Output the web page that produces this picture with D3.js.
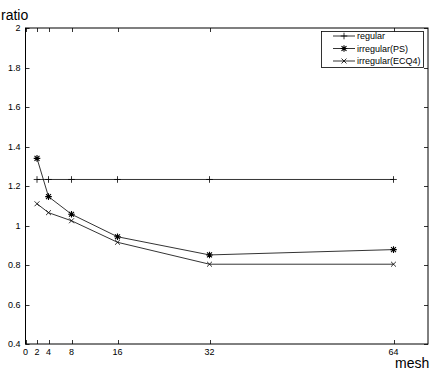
<!DOCTYPE html>
<html><head><meta charset="utf-8">
<script src="https://cdn.jsdelivr.net/npm/d3@7"></script>
<style>body{margin:0;background:#fff}svg{display:block}text{font-family:"Liberation Sans",Arial,sans-serif}</style>
</head><body><svg id="c" width="436" height="371"></svg>
<script>
const meshes = [2, 4, 8, 16, 32, 64];
const regular = [1.233, 1.233, 1.233, 1.233, 1.233, 1.233];
const irregularPS = [1.34, 1.146, 1.057, 0.943, 0.851, 0.878];
const irregularECQ4 = [1.11, 1.065, 1.024, 0.915, 0.804, 0.804];
const xTicks = [0, 2, 4, 8, 16, 32, 64];
const yTicks = [0.4, 0.6, 0.8, 1, 1.2, 1.4, 1.6, 1.8, 2];
const seriesNames = ["regular", "irregular(PS)", "irregular(ECQ4)"];

const svg = d3.select("#c");
const L = 25.5, R = 428, T = 28, B = 344;
const x = d3.scaleLinear().domain([0, 70]).range([L, R]);
const y = d3.scaleLinear().domain([0.4, 2]).range([B, T]);
const tk = 4;

// box
svg.append("rect").attr("x", L).attr("y", T).attr("width", R - L).attr("height", B - T)
  .attr("fill", "none").attr("stroke", "#000").attr("stroke-width", 1);

// ticks
const g = svg.append("g").attr("stroke", "#000").attr("stroke-width", 0.8);
xTicks.forEach(t => {
  const px = Math.round(x(t)) + 0.5;
  g.append("line").attr("x1", px).attr("x2", px).attr("y1", B).attr("y2", B - tk);
  g.append("line").attr("x1", px).attr("x2", px).attr("y1", T).attr("y2", T + tk);
});
yTicks.forEach(t => {
  const py = Math.round(y(t)) + 0.5;
  g.append("line").attr("x1", L).attr("x2", L + tk).attr("y1", py).attr("y2", py);
  g.append("line").attr("x1", R).attr("x2", R - tk).attr("y1", py).attr("y2", py);
});

// tick labels
svg.append("g").selectAll("text").data(xTicks).join("text")
  .attr("x", d => x(d)).attr("y", B + 11).attr("text-anchor", "middle")
  .attr("font-size", 9).text(d => d);
svg.append("g").selectAll("text").data(yTicks).join("text")
  .attr("x", L - 5).attr("y", d => y(d) + 3).attr("text-anchor", "end")
  .attr("font-size", 9).text(d => d);

// axis labels
svg.append("text").attr("x", 1).attr("y", 20).attr("font-size", 14).text("ratio");
svg.append("text").attr("x", 395).attr("y", 368).attr("font-size", 14).text("mesh");

// markers
function marker(sel, type, cx, cy, s) {
  const p = d3.path();
  if (type === "+" || type === "*") {
    p.moveTo(cx - s, cy); p.lineTo(cx + s, cy);
    p.moveTo(cx, cy - s); p.lineTo(cx, cy + s);
  }
  if (type === "x" || type === "*") {
    const d = s * 0.75;
    p.moveTo(cx - d, cy - d); p.lineTo(cx + d, cy + d);
    p.moveTo(cx - d, cy + d); p.lineTo(cx + d, cy - d);
  }
  sel.append("path").attr("d", p.toString()).attr("stroke", "#000")
    .attr("stroke-width", type === "*" ? 1.1 : 0.8).attr("fill", "none");
}

const series = [
  {vals: regular, m: "+"},
  {vals: irregularPS, m: "*"},
  {vals: irregularECQ4, m: "x"}
];
const line = d3.line().x(d => x(d[0])).y(d => y(d[1]));
series.forEach(s => {
  const pts = meshes.map((m, i) => [m, s.vals[i]]);
  svg.append("path").attr("d", line(pts)).attr("fill", "none")
    .attr("stroke", "#000").attr("stroke-width", 0.8);
  pts.forEach(p => marker(svg, s.m, x(p[0]), y(p[1]), 3.3));
});

// legend
const lg = svg.append("g");
lg.append("rect").attr("x", 321.5).attr("y", 31.5).attr("width", 102).attr("height", 36)
  .attr("fill", "#fff").attr("stroke", "#000").attr("stroke-width", 0.8);
const rowsY = [36, 48.5, 61];
seriesNames.forEach((n, i) => {
  lg.append("line").attr("x1", 333).attr("x2", 355).attr("y1", rowsY[i]).attr("y2", rowsY[i])
    .attr("stroke", "#000").attr("stroke-width", 0.8);
  marker(lg, series[i].m, 344, rowsY[i], 3.3);
  lg.append("text").attr("x", 357).attr("y", rowsY[i] + 3).attr("font-size", 9).text(n);
});
</script></body></html>
